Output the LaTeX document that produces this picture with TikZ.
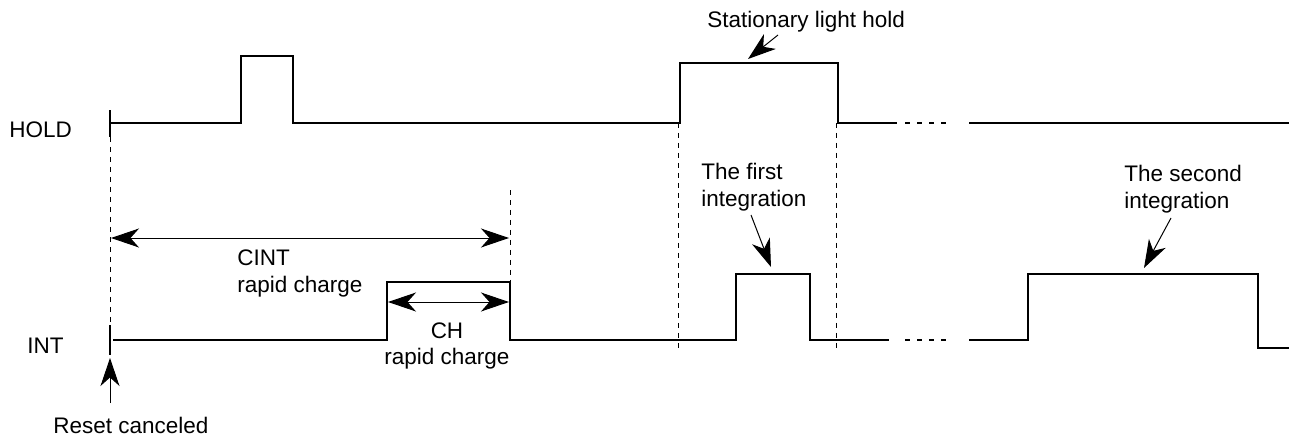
\documentclass[tikz,border=0pt]{standalone}
\usepackage{fontspec}
\setmainfont{Liberation Sans}
\usetikzlibrary{arrows.meta}
\tikzset{
  sig/.style={line width=0.04cm,line join=miter},
  gap/.style={sig,dash pattern=on 0.1cm off 0.14cm},
  guide/.style={line width=0.02cm,dash pattern=on 0.1cm off 0.1cm},
  dim/.style={{Stealth[length=0.56cm,width=0.38cm,inset=0.17cm]}-{Stealth[length=0.56cm,width=0.38cm,inset=0.17cm]},line width=0.02cm},
  note/.style={-{Stealth[length=0.56cm,width=0.38cm,inset=0.17cm]},line width=0.02cm},
  lbl/.style={inner sep=0pt,font=\fontsize{12.8pt}{14.8pt}\selectfont}
}
\begin{document}
\begin{tikzpicture}[x=0.02cm,y=-0.02cm]
\useasboundingbox (0,0) rectangle (1289,436);
% signal names
\node[lbl,anchor=base west] (hold) at (9,137) {HOLD};
\node[lbl,anchor=base west] (int) at (27,353) {INT};
% HOLD waveform
\draw[sig] (110,110) -- (110,137);
\draw[sig] (110,123) -- (241,123) -- (241,56) -- (293,56) -- (293,123) -- (680,123)
  -- (680,63) -- (838,63) -- (838,123) -- (897,123);
\draw[gap] (905,123) -- (952,123);
\draw[sig] (969,123) -- (1289,123);
% INT waveform
\draw[sig] (110,325) -- (110,355);
\draw[sig] (113,340) -- (387,340) -- (387,282) -- (510,282) -- (510,340) -- (736,340)
  -- (736,274) -- (810,274) -- (810,340) -- (889,340);
\draw[gap] (905,340) -- (952,340);
\draw[sig] (969,340) -- (1028,340) -- (1028,274) -- (1258,274) -- (1258,348) -- (1289,348);
% guides
\coordinate (g0top) at (110,137); \coordinate (g0bot) at (110,325);
\coordinate (g1top) at (510,190); \coordinate (g1bot) at (510,282);
\coordinate (g2top) at (678,123); \coordinate (g2bot) at (678,352);
\coordinate (g3top) at (836,123); \coordinate (g3bot) at (836,352);
\draw[guide] (g0top) -- (g0bot);
\draw[guide] (g1top) -- (g1bot);
\draw[guide] (g2top) -- (g2bot);
\draw[guide] (g3top) -- (g3bot);
% intervals
\coordinate (cintL) at (111,238); \coordinate (cintR) at (509,238);
\coordinate (chL) at (388,302); \coordinate (chR) at (509,302);
\draw[dim] (cintL) -- (cintR);
\draw[dim] (chL) -- (chR);
\node[lbl,anchor=base west,align=left] (cint) at (237,292) {CINT\\rapid charge};
\node[lbl,anchor=base,align=center] (ch) at (447,364) {CH\\rapid charge};
% callouts
\node[lbl,anchor=base west] (reset) at (53,433) {Reset canceled};
\coordinate (resetA) at (110,403); \coordinate (resetB) at (110,358);
\draw[note] (resetA) -- (resetB);
\node[lbl,anchor=base west] (stat) at (707,28) {Stationary light hold};
\coordinate (statA) at (778,35); \coordinate (statB) at (748,59);
\draw[note] (statA) -- (statB);
\node[lbl,anchor=base west,align=left] (first) at (701,206) {The first\\integration};
\coordinate (firstA) at (751,215); \coordinate (firstB) at (771,267);
\draw[note] (firstA) -- (firstB);
\node[lbl,anchor=base west,align=left] (second) at (1124,208) {The second\\integration};
\coordinate (secondA) at (1171,218); \coordinate (secondB) at (1144,268);
\draw[note] (secondA) -- (secondB);
\end{tikzpicture}
\end{document}
